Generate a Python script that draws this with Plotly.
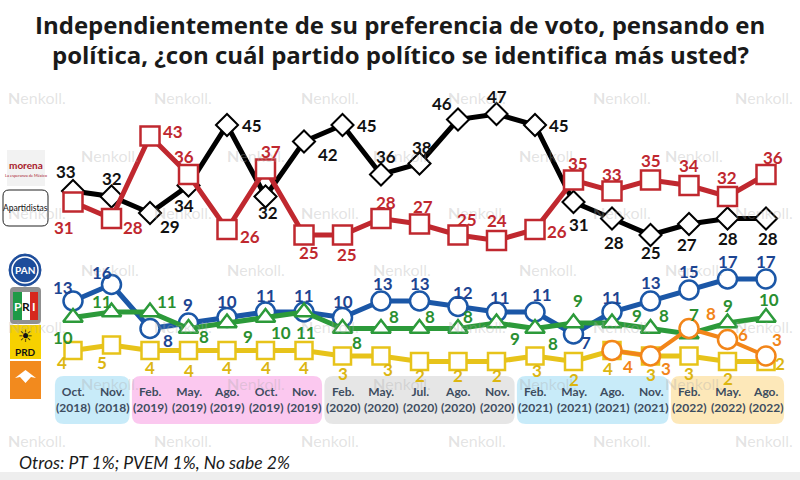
import plotly.graph_objects as go

# ---------------- data ----------------
months = ["Oct.", "Nov.", "Feb.", "May.", "Ago.", "Oct.", "Nov.", "Feb.", "May.", "Jul.",
          "Ago.", "Nov.", "Feb.", "May.", "Ago.", "Nov.", "Feb.", "May.", "Ago."]
years = ["2018", "2018", "2019", "2019", "2019", "2019", "2019", "2020", "2020", "2020",
         "2020", "2020", "2021", "2021", "2021", "2021", "2022", "2022", "2022"]
periods = [f"{m} ({y})" for m, y in zip(months, years)]

apartidistas = [33, 32, 29, 34, 45, 32, 42, 45, 36, 38, 46, 47, 45, 31, 28, 25, 27, 28, 28]
morena = [31, 28, 43, 36, 26, 37, 25, 25, 28, 27, 25, 24, 26, 35, 33, 35, 34, 32, 36]
pan = [13, 16, 8, 9, 10, 11, 11, 10, 13, 13, 12, 11, 11, 7, 11, 13, 15, 17, 17]
pri = [10, 11, 11, 8, 9, 10, 11, 8, 8, 8, 8, 9, 8, 9, 9, 8, 7, 9, 10]
prd = [4, 5, 4, 4, 4, 4, 4, 3, 3, 2, 2, 2, 3, 2, 4, 3, 3, 2, 2]
mc_periods = ["Ago. (2021)", "Nov. (2021)", "Feb. (2022)", "May. (2022)", "Ago. (2022)"]
mc = [4, 3, 8, 6, 3]

title_1 = "Independientemente de su preferencia de voto, pensando en"
title_2 = "política, ¿con cuál partido político se identifica más usted?"
footnote = "Otros: PT 1%; PVEM 1%, No sabe 2%"

# ---------------- styles / label offsets (px: dx, dy-down) ----------------
off_apart = [(-7, -20), (0, -18), (20, 13), (-5, 20), (25, 0), (2, 16), (24, 13), (24, 0), (5, -18),
             (2, -16), (-16, -16), (0, -18), (24, 0), (5, 22), (2, 24), (0, 17), (-2, 20), (0, 20), (2, 20)]
off_morena = [(-9, 25), (21, 9), (23, -5), (-5, -18), (23, 7), (5, -18), (5, 17), (4, 19), (5, -16),
              (3, -18), (9, -16), (0, -20), (22, 2), (4, -17), (0, -17), (0, -20), (0, -20), (-1, -19), (7, -17)]
off_pan = [(-10, -14), (-10, -12), (18, 12), (-1, -19), (0, -16), (0, -17), (0, -17), (0, -16), (2, -18),
           (0, -18), (5, -14), (3, -15), (7, -18), (12, 8), (0, -15), (0, -19), (0, -19), (0, -18), (0, -18)]
off_pri = [(-10, 20), (-10, -11), (17, -11), (15, 8), (21, 13), (15, 15), (2, 20), (14, 14), (13, -12),
           (10, -12), (10, -12), (18, 15), (18, 15), (4, -23), (25, -8), (13, -13), (5, -20), (0, -18), (3, -18)]
off_prd = [(-11, 12), (-10, 17), (0, 17), (0, 20), (0, 17), (0, 17), (0, 17), (0, 17), (7, 13),
           (0, 14), (0, 14), (0, 14), (2, 14), (0, 18), (-4, 18), (0, 18), (0, 17), (0, 17), (14, 2)]
off_mc = [(16, 16), (15, 12), (22, -15), (15, -5), (11, -17)]

FONT = "Lato"
C_BLACK = "#000000"
C_RED = "#c0282f"
C_BLUE = "#1b57a7"
C_GREEN = "#2c9a3a"
C_YELLOW = "#e7c31a"
C_ORANGE = "#f28519"

# pixel <-> data mapping (whole figure is the plotting area)
PX0, PXS = 73.0, 38.5      # x pixel of first period, pixels per period
PY0, PYS = 372.5, 5.5      # y pixel of value 0, pixels per point


def X(px):
    return (px - PX0) / PXS


def Y(py):
    return (PY0 - py) / PYS


idx = list(range(len(periods)))
mc_idx = [periods.index(p) for p in mc_periods]

fig = go.Figure()


def add_series(xs, ys, color, symbol, msize, lw, mlw):
    fig.add_trace(go.Scatter(
        x=xs, y=ys, mode="lines+markers",
        line=dict(color=color, width=lw),
        marker=dict(symbol=symbol, size=msize, color="white", line=dict(color=color, width=mlw)),
        hoverinfo="skip", showlegend=False))


add_series(idx, apartidistas, C_BLACK, "diamond", 17, 5, 2)
add_series(idx, morena, C_RED, "square", 19, 5, 2.5)
add_series(idx, prd, C_YELLOW, "square", 17, 5, 2.5)
add_series(idx, pan, C_BLUE, "circle", 19, 5, 2.5)
add_series(idx, pri, C_GREEN, "triangle-up", 17, 5, 2.5)
add_series(mc_idx, mc, C_ORANGE, "circle", 19, 4, 2.5)

annotations = []
shapes = []

# watermarks (drawn first so they sit under the rest of the annotations)
wm_rows = [97, 155, 212, 269, 326, 383, 440]
for r, py in enumerate(wm_rows):
    starts = [37, 183, 330, 477, 622, 764] if r % 2 == 0 else [110, 256, 402, 548, 694]
    for px in starts:
        annotations.append(dict(x=X(px), y=Y(py), xref="x", yref="y", text="<b>N</b>enkoll.",
                                showarrow=False, font=dict(family=FONT, size=16, color="rgba(170,170,170,0.33)")))


def add_labels(xs, ys, offs, color):
    for x, v, (dx, dy) in zip(xs, ys, offs):
        annotations.append(dict(x=x, y=v, xref="x", yref="y", text=f"<b>{v}</b>", showarrow=False,
                                xshift=dx, yshift=-dy,
                                font=dict(family=FONT, size=17, color=color)))


add_labels(idx, apartidistas, off_apart, "#111111")
add_labels(idx, morena, off_morena, C_RED)
add_labels(idx, pan, off_pan, "#1d4592")
add_labels(idx, pri, off_pri, "#2a8f30")
add_labels(idx, prd, off_prd, "#dcb611")
add_labels(mc_idx, mc, off_mc, C_ORANGE)


def rrect(x0, y0, x1, y1, r, fill, line_color=None, line_width=0):
    p = (f"M {X(x0 + r)},{Y(y0)} L {X(x1 - r)},{Y(y0)} Q {X(x1)},{Y(y0)} {X(x1)},{Y(y0 + r)} "
         f"L {X(x1)},{Y(y1 - r)} Q {X(x1)},{Y(y1)} {X(x1 - r)},{Y(y1)} "
         f"L {X(x0 + r)},{Y(y1)} Q {X(x0)},{Y(y1)} {X(x0)},{Y(y1 - r)} "
         f"L {X(x0)},{Y(y0 + r)} Q {X(x0)},{Y(y0)} {X(x0 + r)},{Y(y0)} Z")
    shapes.append(dict(type="path", path=p, xref="x", yref="y", fillcolor=fill,
                       line=dict(color=line_color or fill, width=line_width), layer="below"))


def rect(x0, y0, x1, y1, fill, layer="above"):
    shapes.append(dict(type="rect", xref="x", yref="y", x0=X(x0), x1=X(x1), y0=Y(y0), y1=Y(y1),
                       fillcolor=fill, line=dict(width=0), layer=layer))


def text(px, py, t, size, color, bold=False, italic=False, xanchor="center", family=FONT):
    if bold:
        t = f"<b>{t}</b>"
    if italic:
        t = f"<i>{t}</i>"
    annotations.append(dict(x=X(px), y=Y(py), xref="x", yref="y", text=t, showarrow=False,
                            xanchor=xanchor, font=dict(family=family, size=size, color=color)))


# year boxes under the x axis
year_colors = {"2018": "#c8ebf9", "2019": "#fbc8ef", "2020": "#e6e6e6", "2021": "#c8ebf9", "2022": "#fde8b9"}
groups = []
for i, y in enumerate(years):
    if groups and groups[-1][0] == y:
        groups[-1][2] = i
    else:
        groups.append([y, i, i])
for y, i0, i1 in groups:
    x0 = PX0 + PXS * (i0 - 0.47)
    x1 = PX0 + PXS * (i1 + 0.47)
    rrect(x0, 376, x1, 424, 9, year_colors[y])
for i, (m, y) in enumerate(zip(months, years)):
    annotations.append(dict(x=i, y=Y(399), xref="x", yref="y", text=f"<b>{m}<br>({y})</b>",
                            showarrow=False, align="center",
                            font=dict(family=FONT, size=12, color="#3e4d60")))

# title and footnote
text(400, 24, title_1, 24, "#1a1a1a", bold=True, family="Open Sans")
text(400, 54, title_2, 24, "#1a1a1a", bold=True, family="Open Sans")
text(17, 462, footnote, 17.5, "#1a1a1a", italic=True, xanchor="left")

# bottom grey band
rect(0, 472, 800, 480, "#eeeeee", layer="below")

# --- left party badges ---
# morena
rect(7, 150, 45, 186, "#f2f2f2", layer="below")
text(26, 165, "morena", 10, "#a8182a", bold=True)
text(26, 175, "La esperanza de México", 4, "#a8182a")
# apartidistas
rrect(3, 190, 48, 226, 6, "white", "#222222", 1)
text(25.5, 208, "Apartidistas", 8.5, "#111111")
# PAN
shapes.append(dict(type="circle", xref="x", yref="y", x0=X(9), x1=X(41), y0=Y(254), y1=Y(286),
                   fillcolor="#1d4d9b", line=dict(color="#1d4d9b", width=1)))
shapes.append(dict(type="circle", xref="x", yref="y", x0=X(12), x1=X(38), y0=Y(257), y1=Y(283),
                   fillcolor="#1d4d9b", line=dict(color="white", width=1.5)))
text(25, 270, "PAN", 10, "white", bold=True)
# PRI
rrect(10, 287, 41, 324, 4, "#909090")
rect(13, 292, 22, 320, "#1e9a46")
rect(22, 292, 30, 320, "#ffffff")
rect(30, 292, 38, 320, "#d6281e")
text(17.5, 306, "P", 12, "#ffffff", bold=True)
text(26, 306, "R", 12, "#111111", bold=True)
text(34, 306, "I", 12, "#ffffff", bold=True)
# PRD
rect(10, 325, 41, 359, "#f6d100")
text(25.5, 336, "☀", 17, "#111111", family="DejaVu Sans")
text(25.5, 352, "PRD", 10, "#111111", bold=True)
# Movimiento Ciudadano
rect(10, 361, 41, 399, "#f28a1e")
shapes.append(dict(type="path", xref="x", yref="y",
                   path=f"M {X(15)},{Y(378)} L {X(25.5)},{Y(370)} L {X(36)},{Y(378)} L {X(31)},{Y(377)} "
                        f"L {X(25.5)},{Y(383)} L {X(20)},{Y(377)} Z",
                   fillcolor="white", line=dict(color="white", width=0)))

fig.update_layout(
    width=800, height=480,
    margin=dict(l=0, r=0, t=0, b=0),
    paper_bgcolor="white", plot_bgcolor="white",
    xaxis=dict(range=[X(0), X(800)], visible=False, fixedrange=True),
    yaxis=dict(range=[Y(480), Y(0)], visible=False, fixedrange=True),
    annotations=annotations,
    shapes=shapes,
    showlegend=False,
)

fig.write_html("out.html", config={"displayModeBar": False},
               post_script="document.body.style.margin='0';document.body.style.overflow='hidden';")
